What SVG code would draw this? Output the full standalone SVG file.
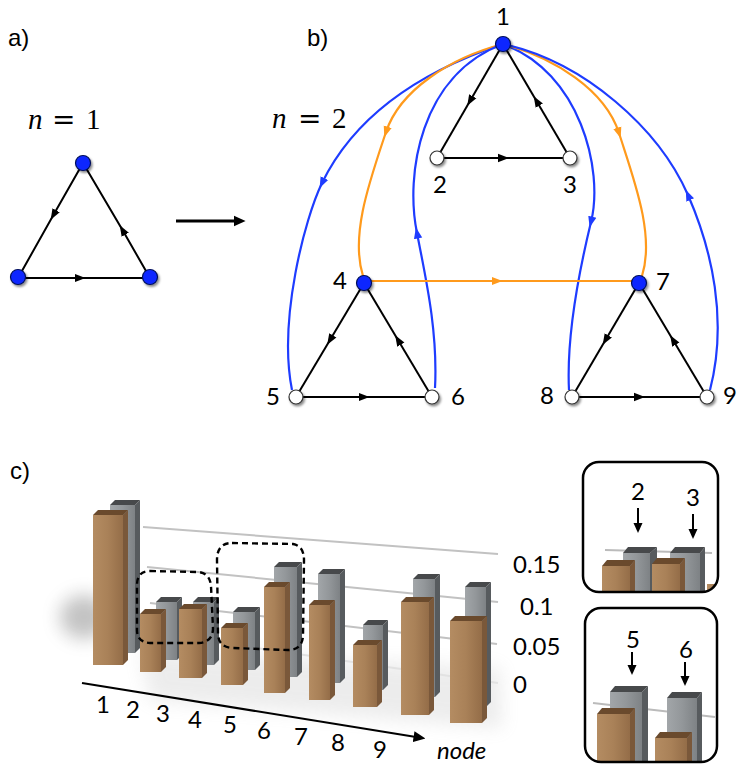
<svg xmlns="http://www.w3.org/2000/svg" width="737" height="765" viewBox="0 0 737 765">
<style>
.lbl{font-family:Lato,"Open Sans","Liberation Sans",sans-serif;font-size:24px;fill:#000}
.pl{font-family:"Liberation Sans",Arial,sans-serif;font-size:24px;fill:#000}
.mth{font-family:"Liberation Serif","DejaVu Serif",serif;font-size:29px;fill:#000}
.eq{font-family:"DejaVu Serif",serif;font-size:28px;fill:#000}
.ax{font-family:Lato,"Open Sans","Liberation Sans",sans-serif;font-size:24px;fill:#000}
.blk{fill:none;stroke:#000;stroke-width:2;marker-mid:url(#mk)}
.blu{fill:none;stroke:#1e3cff;stroke-width:2.2;marker-mid:url(#mb)}
.org{fill:none;stroke:#ff9a1c;stroke-width:2.2;marker-mid:url(#mo)}
.bn{fill:#0a28ff;stroke:#00105a;stroke-width:1.2;filter:url(#sh)}
.wn{fill:#fff;stroke:#333;stroke-width:1.2;filter:url(#sh)}
.grid{stroke:#c2c2c2;stroke-width:2;fill:none}
.bf{fill:url(#gb)}.bs{fill:#7a583a}.bc{fill:#6a4a2d}
.gf{fill:url(#gg)}.gs{fill:#575b5e}.gc{fill:#47494b}
.dash{fill:none;stroke:#000;stroke-width:2.4;stroke-dasharray:6 4}
.inset{fill:none;stroke:#000;stroke-width:2.5}
</style>
<defs>
<marker id="mk" viewBox="0 0 10 10" refX="5" refY="5" markerWidth="11" markerHeight="11" markerUnits="userSpaceOnUse" orient="auto"><path d="M0,1.2 L10,5 L0,8.8 z" fill="#000"/></marker>
<marker id="mb" viewBox="0 0 10 10" refX="5" refY="5" markerWidth="11" markerHeight="11" markerUnits="userSpaceOnUse" orient="auto"><path d="M0,1.2 L10,5 L0,8.8 z" fill="#1e3cff"/></marker>
<marker id="mo" viewBox="0 0 10 10" refX="5" refY="5" markerWidth="11" markerHeight="11" markerUnits="userSpaceOnUse" orient="auto"><path d="M0,1.2 L10,5 L0,8.8 z" fill="#ff9a1c"/></marker>
<marker id="me" viewBox="0 0 10 10" refX="2" refY="5" markerWidth="12" markerHeight="12" markerUnits="userSpaceOnUse" orient="auto"><path d="M0,0.5 L10,5 L0,9.5 z" fill="#000"/></marker>
<marker id="me2" viewBox="0 0 10 10" refX="2" refY="5" markerWidth="10" markerHeight="10" markerUnits="userSpaceOnUse" orient="auto"><path d="M0,0.5 L10,5 L0,9.5 z" fill="#000"/></marker>
<filter id="sh" x="-50%" y="-50%" width="200%" height="200%"><feDropShadow dx="1.5" dy="2" stdDeviation="1.3" flood-color="#000" flood-opacity="0.45"/></filter>
<filter id="blur" x="-50%" y="-50%" width="200%" height="200%"><feGaussianBlur stdDeviation="9"/></filter>
<linearGradient id="gb" x1="0" y1="0" x2="1" y2="0"><stop offset="0" stop-color="#b48c62"/><stop offset="0.5" stop-color="#a98158"/><stop offset="1" stop-color="#946d48"/></linearGradient>
<linearGradient id="gg" x1="0" y1="0" x2="1" y2="0"><stop offset="0" stop-color="#a2a6a9"/><stop offset="0.5" stop-color="#93979a"/><stop offset="1" stop-color="#7e8285"/></linearGradient>
<clipPath id="c1"><rect x="583" y="462" width="135" height="130" rx="16"/></clipPath>
<clipPath id="c2"><rect x="585" y="608" width="132" height="154" rx="16"/></clipPath>
</defs>
<rect width="737" height="765" fill="#fff"/>

<!-- panel labels -->
<text class="pl" x="8" y="46">a)</text>
<text class="pl" x="307" y="46">b)</text>
<text class="pl" x="10" y="479">c)</text>

<!-- n = 1, n = 2 -->
<text class="mth" y="129"><tspan x="28" font-style="italic">n</tspan></text>
<text class="eq" x="52" y="129">=</text>
<text class="mth" x="86" y="129">1</text>
<text class="mth" y="128"><tspan x="272" font-style="italic">n</tspan></text>
<text class="eq" x="298" y="128">=</text>
<text class="mth" x="332" y="128">2</text>

<!-- connectors -->
<g id="connectors">
  <!-- panel a -->
  <path class="blk" d="M83,163 L53.4,215 L18,278"/>
  <path class="blk" d="M18,278 L80,278 L150,278"/>
  <path class="blk" d="M150,278 L122.5,230 L83,163"/>
  <path d="M176,221 L236,221" stroke="#000" stroke-width="3" marker-end="url(#me)"/>
  <!-- panel b curves -->
  <path class="blu" d="M503,44 C440,65 360,105 322,183 C305,218 278,320 292,390"/>
  <path class="org" d="M503,44 C450,58 400,90 386,132 C370,180 350,235 363,276"/>
  <path class="blu" d="M435,388 C438,330 425,275 417,233 C405,175 420,75 503,44"/>
  <path class="blu" d="M503,44 C580,72 604,170 591,222 C583,255 566,330 569,390"/>
  <path class="org" d="M503,44 C555,58 605,90 619,133 C634,180 655,235 642,276"/>
  <path class="blu" d="M710,390 C728,320 712,250 688,195 C659,129 585,62 503,44"/>
  <path class="org" d="M364,281 L497,281 L639,281"/>
  <!-- panel b triangles -->
  <path class="blk" d="M503,44 L470,101 L437,158"/>
  <path class="blk" d="M437,158 L503.5,158 L570,158"/>
  <path class="blk" d="M570,158 L536.5,101 L503,44"/>
  <path class="blk" d="M364,283 L330,340 L296,397"/>
  <path class="blk" d="M296,397 L364,397 L432,397"/>
  <path class="blk" d="M432,397 L398,340 L364,283"/>
  <path class="blk" d="M639,283 L605.5,340 L572,397"/>
  <path class="blk" d="M572,397 L639.5,397 L707,397"/>
  <path class="blk" d="M707,397 L673,340 L639,283"/>
</g>

<!-- nodes panel a -->
<g id="a-top"><circle class="bn" cx="83" cy="163" r="7.5"/></g>
<g id="a-left"><circle class="bn" cx="18" cy="277" r="7.5"/></g>
<g id="a-right"><circle class="bn" cx="150" cy="277" r="7.5"/></g>

<!-- nodes panel b -->
<g id="node1"><circle class="bn" cx="503" cy="44" r="7.5"/><text class="lbl" x="503" y="25" text-anchor="middle">1</text></g>
<g id="node2"><circle class="wn" cx="437" cy="158" r="7"/><text class="lbl" x="440" y="193" text-anchor="middle">2</text></g>
<g id="node3"><circle class="wn" cx="570" cy="158" r="7"/><text class="lbl" x="570" y="193" text-anchor="middle">3</text></g>
<g id="node4"><circle class="bn" cx="364" cy="283" r="7.5"/><text class="lbl" x="340" y="289" text-anchor="middle">4</text></g>
<g id="node5"><circle class="wn" cx="296" cy="397" r="7"/><text class="lbl" x="273" y="405" text-anchor="middle">5</text></g>
<g id="node6"><circle class="wn" cx="432" cy="397" r="7"/><text class="lbl" x="458" y="405" text-anchor="middle">6</text></g>
<g id="node7"><circle class="bn" cx="639" cy="283" r="7.5"/><text class="lbl" x="663" y="290" text-anchor="middle">7</text></g>
<g id="node8"><circle class="wn" cx="572" cy="397" r="7"/><text class="lbl" x="547" y="404" text-anchor="middle">8</text></g>
<g id="node9"><circle class="wn" cx="707" cy="397" r="7"/><text class="lbl" x="730" y="404" text-anchor="middle">9</text></g>

<!-- panel c chart -->
<g id="chart">
  <ellipse cx="84" cy="617" rx="24" ry="22" fill="#555" opacity="0.35" filter="url(#blur)"/>
  <path d="M140,650 L500,668 L502,728 L150,700 Z" fill="#999" opacity="0.18" filter="url(#blur)"/>
  <line class="grid" x1="143" y1="527" x2="498" y2="554"/>
  <line class="grid" x1="147" y1="567" x2="498" y2="602"/>
  <line class="grid" x1="150" y1="603" x2="497" y2="644"/>
  <line x1="200" y1="640" x2="498" y2="683" stroke="#e2e2e2" stroke-width="2"/>
  <!-- grey bars -->
  <g>
    <polygon class="gs" points="135,505 140,500 140,648 135,653"/><polygon class="gc" points="110,505 115,500 140,500 135,505"/><rect class="gf" x="110" y="505" width="25" height="148"/>
    <polygon class="gs" points="177,602 182,597 182,655 177,660"/><polygon class="gc" points="156,602 161,597 182,597 177,602"/><rect class="gf" x="156" y="602" width="21" height="58"/>
    <polygon class="gs" points="214,602 219,597 219,660 214,665"/><polygon class="gc" points="193,602 198,597 219,597 214,602"/><rect class="gf" x="193" y="602" width="21" height="63"/>
    <polygon class="gs" points="255,612 260,607 260,665 255,670"/><polygon class="gc" points="233,612 238,607 260,607 255,612"/><rect class="gf" x="233" y="612" width="22" height="58"/>
    <polygon class="gs" points="297,567 302,562 302,672 297,677"/><polygon class="gc" points="274,567 279,562 302,562 297,567"/><rect class="gf" x="274" y="567" width="23" height="110"/>
    <polygon class="gs" points="340,574 345,569 345,678 340,683"/><polygon class="gc" points="318,574 323,569 345,569 340,574"/><rect class="gf" x="318" y="574" width="22" height="109"/>
    <polygon class="gs" points="383,625 388,620 388,685 383,690"/><polygon class="gc" points="363,625 368,620 388,620 383,625"/><rect class="gf" x="363" y="625" width="20" height="65"/>
    <polygon class="gs" points="435,579 440,574 440,692 435,697"/><polygon class="gc" points="413,579 418,574 440,574 435,579"/><rect class="gf" x="413" y="579" width="22" height="118"/>
    <polygon class="gs" points="486,587 491,582 491,702 486,707"/><polygon class="gc" points="465,587 470,582 491,582 486,587"/><rect class="gf" x="465" y="587" width="21" height="120"/>
  </g>
  <!-- brown bars -->
  <g>
    <polygon class="bs" points="123,515 128,510 128,660 123,665"/><polygon class="bc" points="93,515 98,510 128,510 123,515"/><rect class="bf" x="93" y="515" width="30" height="150"/>
    <polygon class="bs" points="161,614 166,609 166,667 161,672"/><polygon class="bc" points="140,614 145,609 166,609 161,614"/><rect class="bf" x="140" y="614" width="21" height="58"/>
    <polygon class="bs" points="202,609 207,604 207,673 202,678"/><polygon class="bc" points="179,609 184,604 207,604 202,609"/><rect class="bf" x="179" y="609" width="23" height="69"/>
    <polygon class="bs" points="243,628 248,623 248,680 243,685"/><polygon class="bc" points="221,628 226,623 248,623 243,628"/><rect class="bf" x="221" y="628" width="22" height="57"/>
    <polygon class="bs" points="285,587 290,582 290,688 285,693"/><polygon class="bc" points="264,587 269,582 290,582 285,587"/><rect class="bf" x="264" y="587" width="21" height="106"/>
    <polygon class="bs" points="330,605 335,600 335,695 330,700"/><polygon class="bc" points="309,605 314,600 335,600 330,605"/><rect class="bf" x="309" y="605" width="21" height="95"/>
    <polygon class="bs" points="377,645 382,640 382,702 377,707"/><polygon class="bc" points="353,645 358,640 382,640 377,645"/><rect class="bf" x="353" y="645" width="24" height="62"/>
    <polygon class="bs" points="429,602 434,597 434,710 429,715"/><polygon class="bc" points="401,602 406,597 434,597 429,602"/><rect class="bf" x="401" y="602" width="28" height="113"/>
    <polygon class="bs" points="482,621 487,616 487,718 482,723"/><polygon class="bc" points="450,621 455,616 487,616 482,621"/><rect class="bf" x="450" y="621" width="32" height="102"/>
  </g>
  <!-- dashed boxes -->
  <path class="dash" d="M150,571 L198,572 Q210,573 211,586 L213,628 Q213,642 199,643 L150,643 Q137,642 137,630 L137,585 Q137,571 150,571 Z"/>
  <path class="dash" d="M232,543 L293,544 Q304,546 304,560 L303,636 Q302,650 288,650 L232,648 Q218,647 218,633 L217,560 Q217,543 232,543 Z"/>
  <!-- axis -->
  <path d="M82,683 L416,737" stroke="#000" stroke-width="2" marker-end="url(#me)"/>
  <text class="ax" x="103" y="713" text-anchor="middle">1</text>
  <text class="ax" x="133" y="718" text-anchor="middle">2</text>
  <text class="ax" x="163" y="722" text-anchor="middle">3</text>
  <text class="ax" x="195" y="728" text-anchor="middle">4</text>
  <text class="ax" x="230" y="733" text-anchor="middle">5</text>
  <text class="ax" x="264" y="739" text-anchor="middle">6</text>
  <text class="ax" x="301" y="745" text-anchor="middle">7</text>
  <text class="ax" x="338" y="751" text-anchor="middle">8</text>
  <text class="ax" x="380" y="758" text-anchor="middle">9</text>
  <text class="ax" x="437" y="759" font-style="italic">node</text>
  <text class="ax" x="513" y="573">0.15</text>
  <text class="ax" x="520" y="615">0.1</text>
  <text class="ax" x="513" y="655">0.05</text>
  <text class="ax" x="513" y="693">0</text>
</g>

<!-- inset 1 -->
<g id="inset1">
  <g clip-path="url(#c1)">
    <line x1="605" y1="550" x2="712" y2="553" stroke="#bbb" stroke-width="2"/>
    <polygon class="gs" points="650,553 657,547 657,600 650,600"/><polygon class="gc" points="623,553 628,547 657,547 650,553"/><rect class="gf" x="623" y="553" width="27" height="50"/>
    <polygon class="gs" points="700,553 705,547 705,600 700,600"/><polygon class="gc" points="670,553 675,547 705,547 700,553"/><rect class="gf" x="670" y="553" width="30" height="50"/>
    <polygon class="bs" points="630,566 635,560 635,600 630,600"/><polygon class="bc" points="602,566 607,560 635,560 630,566"/><rect class="bf" x="602" y="566" width="28" height="40"/>
    <polygon class="bs" points="680,564 685,558 685,600 680,600"/><polygon class="bc" points="652,564 657,558 685,558 680,564"/><rect class="bf" x="652" y="564" width="28" height="40"/>
    <rect class="bf" x="707" y="584" width="12" height="20"/>
  </g>
  <rect class="inset" x="583" y="462" width="135" height="130" rx="16"/>
  <text class="lbl" x="638" y="500" text-anchor="middle" font-size="26">2</text>
  <text class="lbl" x="693" y="506" text-anchor="middle" font-size="26">3</text>
  <path d="M638,508 L638,525" stroke="#000" stroke-width="2" marker-end="url(#me2)"/>
  <path d="M693,514 L693,531" stroke="#000" stroke-width="2" marker-end="url(#me2)"/>
</g>

<!-- inset 2 -->
<g id="inset2">
  <g clip-path="url(#c2)">
    <line x1="593" y1="703" x2="715" y2="717" stroke="#bbb" stroke-width="2"/>
    <polygon class="gs" points="642,692 648,686 648,770 642,770"/><polygon class="gc" points="610,692 615,686 648,686 642,692"/><rect class="gf" x="610" y="692" width="32" height="80"/>
    <polygon class="gs" points="697,698 702,692 702,770 697,770"/><polygon class="gc" points="667,698 672,692 702,692 697,698"/><rect class="gf" x="667" y="698" width="30" height="80"/>
    <polygon class="bs" points="630,714 635,708 635,770 630,770"/><polygon class="bc" points="597,714 602,708 635,708 630,714"/><rect class="bf" x="597" y="714" width="33" height="60"/>
    <polygon class="bs" points="687,738 692,732 692,770 687,770"/><polygon class="bc" points="655,738 660,732 692,732 687,738"/><rect class="bf" x="655" y="738" width="32" height="40"/>
  </g>
  <rect class="inset" x="585" y="608" width="132" height="154" rx="16"/>
  <text class="lbl" x="633" y="648" text-anchor="middle" font-size="26">5</text>
  <text class="lbl" x="686" y="658" text-anchor="middle" font-size="26">6</text>
  <path d="M632,652 L632,667" stroke="#000" stroke-width="2" marker-end="url(#me2)"/>
  <path d="M685,662 L685,678" stroke="#000" stroke-width="2" marker-end="url(#me2)"/>
</g>
</svg>
